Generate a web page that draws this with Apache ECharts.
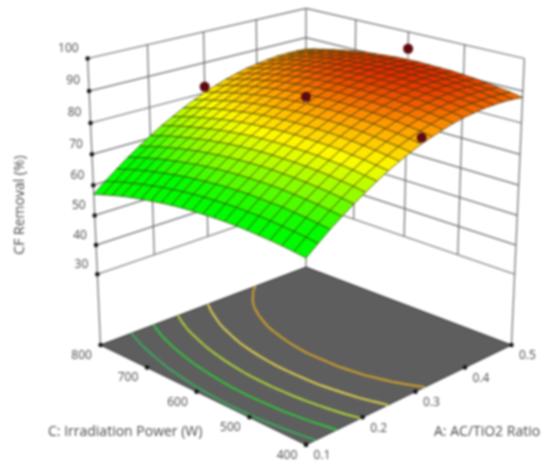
<!DOCTYPE html>
<html>
<head>
<meta charset="utf-8">
<style>
html,body{margin:0;padding:0;background:#fff}
#chart{width:548px;height:474px;filter:blur(1px)}
</style>
<script src="https://cdn.jsdelivr.net/npm/echarts@6/dist/echarts.min.js"></script>
</head>
<body>
<div id="chart"></div>
<script>
const ratioTicks = [0.1, 0.2, 0.3, 0.4, 0.5];
const powerTicks = [400, 500, 600, 700, 800];
const removalTicks = [30, 40, 50, 60, 70, 80, 90, 100];
const contourLevels = [65, 70, 75, 80, 85];
const contourColors = ['#3fa35c', '#35bb3e', '#a6cc3c', '#d6c850', '#c89c30'];
const markerRatio = [0.3, 0.3, 0.5, 0.3];
const markerPower = [800, 600, 600, 400];
const markerRemoval = [82, 88.2, 94.5, 85.8];

// Rows: irradiation power 400 -> 800 in 20 W steps. Columns: AC/TiO2 ratio 0.1 -> 0.5 in 0.02 steps.
const removal = [
[62.6,65.5,68.3,70.8,73.2,75.4,77.5,79.4,81.1,82.6,84.0,85.1,86.1,87.0,87.7,88.1,88.5,88.6,88.6,88.4,88.0],
[63.1,66.0,68.7,71.3,73.7,76.0,78.0,79.9,81.6,83.2,84.5,85.7,86.7,87.6,88.3,88.8,89.1,89.2,89.2,89.0,88.7],
[63.5,66.4,69.2,71.8,74.2,76.4,78.5,80.4,82.1,83.6,85.0,86.2,87.2,88.1,88.8,89.3,89.6,89.8,89.8,89.6,89.2],
[63.8,66.7,69.5,72.1,74.5,76.8,78.9,80.7,82.5,84.0,85.4,86.6,87.7,88.5,89.2,89.7,90.1,90.3,90.3,90.1,89.7],
[64.0,67.0,69.8,72.4,74.8,77.1,79.1,81.1,82.8,84.4,85.8,87.0,88.0,88.9,89.6,90.1,90.5,90.7,90.7,90.5,90.2],
[64.2,67.2,69.9,72.6,75.0,77.3,79.4,81.3,83.0,84.6,86.0,87.2,88.3,89.2,89.9,90.4,90.8,91.0,91.0,90.8,90.5],
[64.3,67.2,70.0,72.7,75.1,77.4,79.5,81.4,83.2,84.8,86.2,87.4,88.5,89.4,90.1,90.6,91.0,91.2,91.2,91.1,90.8],
[64.3,67.3,70.1,72.7,75.2,77.4,79.5,81.5,83.2,84.8,86.3,87.5,88.6,89.5,90.2,90.8,91.1,91.4,91.4,91.2,90.9],
[64.2,67.2,70.0,72.6,75.1,77.4,79.5,81.5,83.2,84.8,86.3,87.5,88.6,89.5,90.3,90.8,91.2,91.4,91.5,91.3,91.0],
[64.0,67.0,69.9,72.5,75.0,77.3,79.4,81.4,83.1,84.8,86.2,87.5,88.6,89.5,90.2,90.8,91.2,91.4,91.5,91.3,91.1],
[63.8,66.8,69.6,72.3,74.8,77.1,79.2,81.2,83.0,84.6,86.1,87.3,88.4,89.4,90.1,90.7,91.1,91.3,91.4,91.3,91.0],
[63.5,66.5,69.3,72.0,74.5,76.8,79.0,80.9,82.7,84.4,85.8,87.1,88.2,89.1,89.9,90.5,90.9,91.2,91.2,91.1,90.9],
[63.1,66.1,68.9,71.6,74.1,76.5,78.6,80.6,82.4,84.0,85.5,86.8,87.9,88.9,89.6,90.2,90.7,90.9,91.0,90.9,90.6],
[62.6,65.6,68.5,71.2,73.7,76.0,78.2,80.2,82.0,83.6,85.1,86.4,87.5,88.5,89.3,89.9,90.3,90.6,90.7,90.6,90.3],
[62.0,65.1,67.9,70.6,73.2,75.5,77.7,79.7,81.5,83.2,84.7,86.0,87.1,88.1,88.9,89.5,89.9,90.2,90.3,90.2,90.0],
[61.4,64.4,67.3,70.0,72.6,74.9,77.1,79.1,80.9,82.6,84.1,85.4,86.6,87.5,88.3,89.0,89.4,89.7,89.8,89.7,89.5],
[60.7,63.7,66.6,69.3,71.9,74.2,76.4,78.4,80.3,82.0,83.5,84.8,85.9,86.9,87.7,88.4,88.8,89.1,89.2,89.2,89.0],
[59.9,62.9,65.8,68.6,71.1,73.5,75.7,77.7,79.6,81.2,82.8,84.1,85.3,86.2,87.1,87.7,88.2,88.5,88.6,88.6,88.3],
[59.0,62.1,65.0,67.7,70.3,72.7,74.9,76.9,78.8,80.4,82.0,83.3,84.5,85.5,86.3,87.0,87.5,87.8,87.9,87.8,87.6],
[58.0,61.1,64.0,66.8,69.3,71.7,74.0,76.0,77.9,79.6,81.1,82.5,83.6,84.6,85.5,86.1,86.6,86.9,87.1,87.1,86.9],
[57.0,60.1,63.0,65.8,68.3,70.7,73.0,75.0,76.9,78.6,80.2,81.5,82.7,83.7,84.6,85.2,85.7,86.1,86.2,86.2,86.0]
];

const N = removal.length - 1;
const aAt = i => 0.1 + 0.4 * i / N;
const cAt = j => 400 + 400 * j / N;
const FLOOR = 5, TOP = 100;

// Perspective view of the response-surface box.
function project(A, C, z) {
  const u = (A - 0.1) / 0.4, v = (C - 400) / 400, Z = 2 * (z - FLOOR) / (TOP - FLOOR);
  const rx = Math.SQRT2 * (u - v), dep = Math.SQRT2 * (u + v - 1);
  const sinE = 0.426, cosE = 0.905, f = 1505, D = 10.36;
  const dy = D + dep * cosE - Z * sinE, dx = D + dep * cosE - 0.72 * Z * sinE;
  return [306 + f * rx / dx, 345 - f * (Z * cosE + dep * sinE) / dy];
}

const stops = [[67, [0, 252, 0]], [74, [140, 252, 0]], [80, [255, 252, 0]], [86, [255, 155, 0]], [91.5, [226, 40, 0]]];
function heat(z) {
  if (z <= stops[0][0]) return 'rgb(' + stops[0][1] + ')';
  for (let k = 1; k < stops.length; k++) {
    if (z <= stops[k][0]) {
      const t = (z - stops[k - 1][0]) / (stops[k][0] - stops[k - 1][0]);
      const c = stops[k - 1][1].map((a, n) => Math.round(a + (stops[k][1][n] - a) * t));
      return 'rgb(' + c + ')';
    }
  }
  return 'rgb(' + stops[stops.length - 1][1] + ')';
}

// Wall grid segments
const Amin = ratioTicks[0], Amax = ratioTicks[4], Cmin = powerTicks[0], Cmax = powerTicks[4];
const wallSegs = [];
removalTicks.forEach(z => {
  wallSegs.push([Amin, Cmax, z, Amax, Cmax, z], [Amax, Cmax, z, Amax, Cmin, z]);
});
ratioTicks.slice(1, 4).forEach(a => wallSegs.push([a, Cmax, 30, a, Cmax, 100]));
powerTicks.slice(1, 4).forEach(c => wallSegs.push([Amax, c, 30, Amax, c, 100]));
wallSegs.push([Amin, Cmax, FLOOR, Amin, Cmax, 100], [Amax, Cmax, FLOOR, Amax, Cmax, 100], [Amax, Cmin, FLOOR, Amax, Cmin, 100]);

// Contours on the floor from the removal table
const contourSegs = [];
contourLevels.forEach((lv, li) => {
  for (let j = 0; j < N; j++) for (let i = 0; i < N; i++) {
    const q = [[i, j], [i + 1, j], [i + 1, j + 1], [i, j + 1]];
    const pts = [];
    for (let k = 0; k < 4; k++) {
      const p = q[k], r = q[(k + 1) % 4];
      const a = removal[p[1]][p[0]], b = removal[r[1]][r[0]];
      if ((a < lv) !== (b < lv)) {
        const t = (lv - a) / (b - a);
        pts.push([aAt(p[0] + (r[0] - p[0]) * t), cAt(p[1] + (r[1] - p[1]) * t)]);
      }
    }
    if (pts.length >= 2) contourSegs.push([pts[0][0], pts[0][1], FLOOR, pts[1][0], pts[1][1], FLOOR, li]);
    if (pts.length === 4) contourSegs.push([pts[2][0], pts[2][1], FLOOR, pts[3][0], pts[3][1], FLOOR, li]);
  }
});

// Surface cells, far to near
const cells = [];
for (let j = 0; j < N; j++) for (let i = 0; i < N; i++) cells.push([i, j]);
cells.sort((p, q) => (q[0] + q[1]) - (p[0] + p[1]));

const toPx = (api, p) => api.coord(project(p[0], p[1], p[2]));

const segRender = (stroke, width) => (params, api) => {
  const s = [0,1,2,3,4,5].map(k => api.value(k));
  const a = toPx(api, s.slice(0, 3)), b = toPx(api, s.slice(3));
  const col = typeof stroke === 'function' ? stroke(api.value(6)) : stroke;
  return { type: 'line', shape: { x1: a[0], y1: a[1], x2: b[0], y2: b[1] }, style: { stroke: col, lineWidth: width, fill: null } };
};

const TEXT = '#4a4a4a';
const labelRender = (params, api) => {
  const p = api.coord(project(api.value(0), api.value(1), api.value(2)));
  const d = labelData[params.dataIndex];
  return { type: 'text', style: { text: d[5], x: p[0] + d[3], y: p[1] + d[4], fill: TEXT, font: '12px "Open Sans"', align: d[6], verticalAlign: 'middle' } };
};

const labelData = [];
removalTicks.forEach(z => labelData.push([Amin, Cmax, z, -9, -10, String(z), 'right']));
powerTicks.forEach(c => labelData.push([Amin, c, FLOOR, -19, 10.5, String(c), 'center']));
ratioTicks.forEach(a => labelData.push([a, Cmin, FLOOR, 16, 11, a.toFixed(1), 'center']));

const tickDots = [];
removalTicks.forEach(z => tickDots.push(project(Amin, Cmax, z)));
powerTicks.forEach(c => tickDots.push(project(Amin, c, FLOOR)));
ratioTicks.forEach(a => tickDots.push(project(a, Cmin, FLOOR)));

const markerItems = markerRatio.map((a, k) => [a, markerPower[k], markerRemoval[k]]);
const surfaceAt = (a, c) => removal[Math.round((c - 400) / 400 * N)][Math.round((a - 0.1) / 0.4 * N)];

const base = { coordinateSystem: 'cartesian2d', silent: true, clip: false, animation: false };

const option = {
  animation: false,
  backgroundColor: '#fff',
  grid: { left: 0, right: 0, top: 0, bottom: 0, containLabel: false },
  xAxis: { type: 'value', min: 0, max: 548, show: false },
  yAxis: { type: 'value', min: 0, max: 474, inverse: true, show: false },
  graphic: [
    { type: 'text', left: 48, top: 425, style: { text: 'C: Irradiation Power (W)', fill: TEXT, font: '14px "Open Sans"' } },
    { type: 'text', left: 434, top: 425, style: { text: 'A: AC/TiO2 Ratio', fill: TEXT, font: '14px "Open Sans"' } },
    { type: 'text', x: 20, y: 205, rotation: Math.PI / 2, style: { text: 'CF Removal (%)', fill: TEXT, font: '14px "Open Sans"', align: 'center', verticalAlign: 'middle' } }
  ],
  series: [
    Object.assign({}, base, { name: 'walls', type: 'custom', z: 1, data: wallSegs, renderItem: segRender('#6e6e6e', 1.2) }),
    Object.assign({}, base, { name: 'floor', type: 'custom', z: 2, data: [[0]], renderItem: (p, api) => ({
      type: 'polygon',
      shape: { points: [[Amin, Cmin], [Amax, Cmin], [Amax, Cmax], [Amin, Cmax]].map(q => api.coord(project(q[0], q[1], FLOOR))) },
      style: { fill: '#5e5e5e', stroke: '#303030', lineWidth: 1 }
    }) }),
    Object.assign({}, base, { name: 'contours', type: 'custom', z: 3, data: contourSegs, renderItem: segRender(k => contourColors[k], 2.2) }),
    Object.assign({}, base, { name: 'surface', type: 'custom', z: 4, data: cells, renderItem: (p, api) => {
      const i = api.value(0), j = api.value(1);
      const corner = [[i, j], [i + 1, j], [i + 1, j + 1], [i, j + 1]];
      const zs = corner.map(q => removal[q[1]][q[0]]);
      const mean = (zs[0] + zs[1] + zs[2] + zs[3]) / 4;
      return {
        type: 'polygon',
        shape: { points: corner.map((q, k) => api.coord(project(aAt(q[0]), cAt(q[1]), zs[k]))) },
        style: { fill: heat(mean), stroke: 'rgba(40,40,0,0.62)', lineWidth: 1 }
      };
    } }),
    Object.assign({}, base, { name: 'stems', type: 'custom', z: 5, data: markerItems.map(m => [m[0], m[1], m[2], m[0], m[1], surfaceAt(m[0], m[1])]), renderItem: segRender('#d8c8b8', 1.2) }),
    Object.assign({}, base, { name: 'ticks', type: 'scatter', z: 5, symbolSize: 4.5, itemStyle: { color: '#111', opacity: 1 }, data: tickDots }),
    Object.assign({}, base, { name: 'runs', type: 'scatter', z: 6, symbolSize: 10, itemStyle: { color: '#5e0b10', opacity: 1 }, data: markerItems.map(m => project(m[0], m[1], m[2])) }),
    Object.assign({}, base, { name: 'labels', type: 'custom', z: 7, data: labelData.map(d => d.slice(0, 3)), renderItem: labelRender })
  ]
};
echarts.init(document.getElementById('chart'), null, { renderer: 'canvas' }).setOption(option);
</script>
</body>
</html>
